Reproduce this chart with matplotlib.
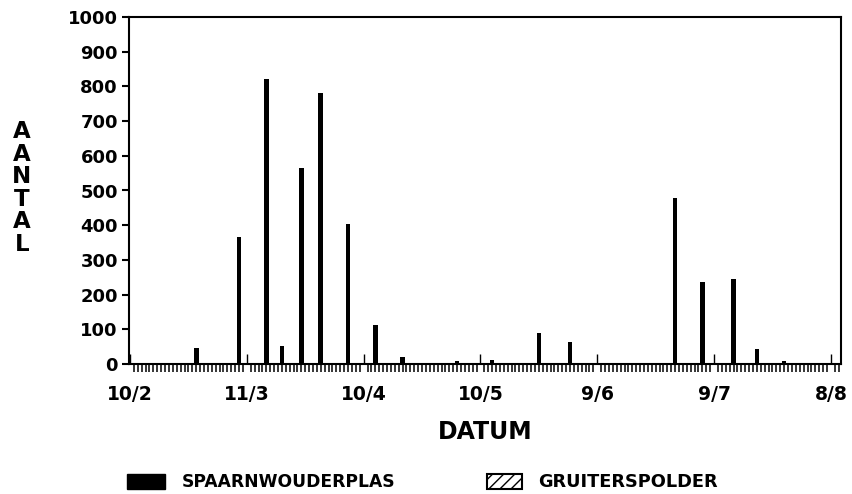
import matplotlib
matplotlib.use('Agg')
import matplotlib.pyplot as plt
from matplotlib.patches import Rectangle
from matplotlib.ticker import MultipleLocator

# ---- data (day offset from 10/2) ----
days = [17, 28, 35, 39, 44, 49, 56, 63, 70, 84, 93, 105, 113, 117, 122, 140, 147, 155, 161, 168, 175]
spaarnwouderplas = [47, 367, 820, 53, 566, 780, 403, 112, 21, 9, 11, 88, 62, 3, 3, 479, 237, 244, 43, 8, 3]
tick_days = [0, 30, 60, 90, 120, 150, 180]
tick_labels = ['10/2', '11/3', '10/4', '10/5', '9/6', '9/7', '8/8']
y_ticks = list(range(0, 1001, 100))
legend_labels = ['SPAARNWOUDERPLAS', 'GRUITERSPOLDER']

W, H = 852, 494
fig = plt.figure(figsize=(W / 100, H / 100), dpi=100)
fig.patch.set_facecolor('white')


def fx(px):
    return px / W


def fy(py):
    return 1 - py / H


ax = fig.add_axes([fx(129), fy(364), fx(841) - fx(129), fy(17) - fy(364)])
ax.bar(days, spaarnwouderplas, width=1.2, color='black', edgecolor='none')
ax.set_xlim(-0.26, 182.6)
ax.set_ylim(0, 1000)

ax.set_xticks(tick_days)
ax.set_xticklabels(tick_labels)
ax.xaxis.set_minor_locator(MultipleLocator(1))
ax.tick_params(axis='x', which='major', direction='in', length=7, width=1.0,
               pad=15, labelsize=13.5)
ax.tick_params(axis='x', which='minor', direction='out', length=5.5, width=1.1)
ax.set_yticks(y_ticks)
ax.tick_params(axis='y', direction='out', length=5, width=1.5, pad=3, labelsize=13)
for lab in ax.get_xticklabels() + ax.get_yticklabels():
    lab.set_fontweight('bold')
for s in ax.spines.values():
    s.set_linewidth(1.5)

# Y axis label: stacked letters
for i, ch in enumerate('AANTAL'):
    fig.text(fx(22), fy(131.5 + i * 22.6), ch, ha='center', va='center',
             fontsize=16.5, fontweight='bold')

# X axis label
fig.text(fx(485), fy(432), 'DATUM', ha='center', va='center',
         fontsize=17, fontweight='bold')

# Legend
fig.patches.append(Rectangle((fx(127), fy(489)), fx(165) - fx(127), fy(474) - fy(489),
                             transform=fig.transFigure, facecolor='black',
                             edgecolor='black', figure=fig))
fig.text(fx(182), fy(482), legend_labels[0], ha='left', va='center',
         fontsize=12.3, fontweight='bold')
fig.patches.append(Rectangle((fx(487), fy(489)), fx(522) - fx(487), fy(474) - fy(489),
                             transform=fig.transFigure, facecolor='white',
                             edgecolor='black', hatch='///', linewidth=1.5,
                             figure=fig))
fig.text(fx(538), fy(482), legend_labels[1], ha='left', va='center',
         fontsize=12.8, fontweight='bold')

fig.savefig('out.png', dpi=100)
